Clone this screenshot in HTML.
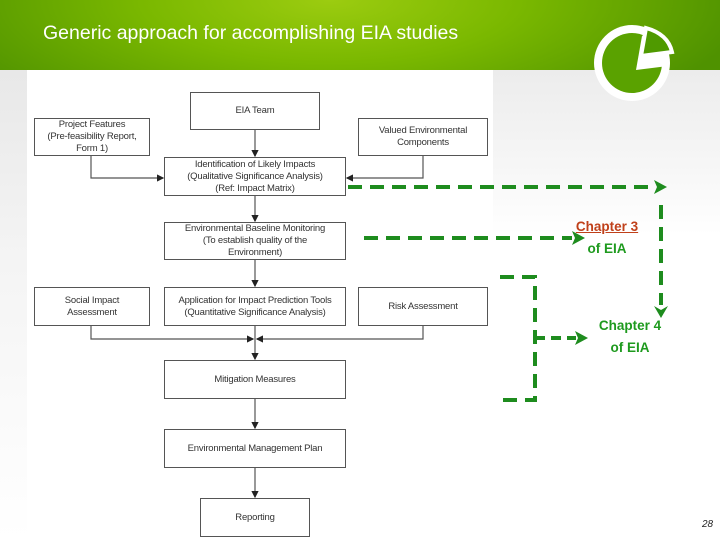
<!DOCTYPE html>
<html><head><meta charset="utf-8"><style>
body{margin:0;width:720px;height:540px;overflow:hidden;background:#fff;position:relative;font-family:"Liberation Sans",sans-serif}
.hdr{position:absolute;left:0;top:0;width:720px;height:70px;background:radial-gradient(ellipse 420px 140px at 330px 0px,#9ccc10 0%,#7ab800 45%,#4f9200 100%)}
.title{position:absolute;left:43px;top:22px;color:#fff;font-family:"Liberation Sans",sans-serif;font-size:19.5px}
.lstrip{position:absolute;left:0;top:70px;width:27px;height:470px;background:linear-gradient(#e8e8e8,#f4f4f4 40%,#fff)}
.rstrip{position:absolute;left:493px;top:70px;width:227px;height:470px;background:linear-gradient(#ececec,#f6f6f6 20%,#fff 35%)}
.panel{position:absolute;left:27px;top:75px;width:466px;height:465px;background:#fff}
.b{position:absolute;border:1.3px solid #555;background:#fff;box-sizing:border-box;display:flex;align-items:center;justify-content:center;text-align:center;font-size:9.5px;color:#333;line-height:12px;letter-spacing:-0.2px}
.g{position:absolute;color:#1e9a1e;font-family:"Liberation Sans",sans-serif;font-weight:bold;font-size:13.5px;text-align:center;line-height:22px}
</style></head><body>
<div class="hdr"></div>
<div class="title">Generic approach for accomplishing EIA studies</div>
<div class="lstrip"></div><div class="rstrip"></div><div class="panel"></div>
<svg style="position:absolute;left:0;top:0" width="720" height="540">
<defs><marker id="a" markerWidth="6" markerHeight="6" refX="5" refY="3" orient="auto"><path d="M0,0L6,3L0,6z" fill="#222"/></marker></defs>
<g stroke="#555" stroke-width="1.2" fill="none">
<line x1="255" y1="130" x2="255" y2="156" marker-end="url(#a)"/>
<polyline points="91,156 91,178 163,178" marker-end="url(#a)"/>
<polyline points="423,156 423,178 347,178" marker-end="url(#a)"/>
<line x1="255" y1="196" x2="255" y2="221" marker-end="url(#a)"/>
<line x1="255" y1="260" x2="255" y2="286" marker-end="url(#a)"/>
<polyline points="91,326 91,339 253,339" marker-end="url(#a)"/>
<polyline points="423,326 423,339 257,339" marker-end="url(#a)"/>
<line x1="255" y1="326" x2="255" y2="359" marker-end="url(#a)"/>
<line x1="255" y1="399" x2="255" y2="428" marker-end="url(#a)"/>
<line x1="255" y1="468" x2="255" y2="497" marker-end="url(#a)"/>
</g>
<g stroke="#1e8c1e" stroke-width="4" fill="none" stroke-dasharray="14,8">
<line x1="348" y1="187" x2="655" y2="187"/>
<line x1="661" y1="205" x2="661" y2="305"/>
<line x1="364" y1="238" x2="572" y2="238"/>
<polyline points="500,277 535,277 535,400 500,400"/>
<line x1="535" y1="338" x2="576" y2="338" stroke-dasharray="10,6"/>
</g>
<g fill="#1e8c1e">
<path d="M654,180L667,187L654,194L657,187z"/>
<path d="M654,306L661,318L668,306L661,310z"/>
<path d="M572,231L585,238L572,245L575,238z"/>
<path d="M575,331L588,338L575,345L578,338z"/>
</g>
<circle cx="632" cy="63" r="38" fill="#fff"/>
<circle cx="632" cy="63" r="30" fill="#5aa200"/>
<path d="M642,36 L636,70 L668,66 Q666,44 642,36z" fill="#fff"/>
<path d="M646,28 L641,56 L672,52 Q668,34 646,28z" fill="#4f9a00" stroke="#fff" stroke-width="4"/>
</svg>
<div class="b" style="left:190px;top:92px;width:130px;height:38px">EIA Team</div>
<div class="b" style="left:34px;top:118px;width:116px;height:38px">Project Features<br>(Pre-feasibility Report,<br>Form 1)</div>
<div class="b" style="left:358px;top:118px;width:130px;height:38px">Valued Environmental<br>Components</div>
<div class="b" style="left:164px;top:157px;width:182px;height:39px">Identification of Likely Impacts<br>(Qualitative Significance Analysis)<br>(Ref: Impact Matrix)</div>
<div class="b" style="left:164px;top:222px;width:182px;height:38px">Environmental Baseline Monitoring<br>(To establish quality of the<br>Environment)</div>
<div class="b" style="left:34px;top:287px;width:116px;height:39px">Social Impact<br>Assessment</div>
<div class="b" style="left:164px;top:287px;width:182px;height:39px">Application for Impact Prediction Tools<br>(Quantitative Significance Analysis)</div>
<div class="b" style="left:358px;top:287px;width:130px;height:39px">Risk Assessment</div>
<div class="b" style="left:164px;top:360px;width:182px;height:39px">Mitigation Measures</div>
<div class="b" style="left:164px;top:429px;width:182px;height:39px">Environmental Management Plan</div>
<div class="b" style="left:200px;top:498px;width:110px;height:39px">Reporting</div>
<div class="g" style="left:562px;top:216px;width:90px"><span style="color:#c0401a;text-decoration:underline">Chapter 3</span><br>of EIA</div>
<div class="g" style="left:585px;top:315px;width:90px">Chapter 4<br>of EIA</div>
<div style="position:absolute;left:702px;top:519px;font-size:10px;font-style:italic;color:#222">28</div>
</body></html>
